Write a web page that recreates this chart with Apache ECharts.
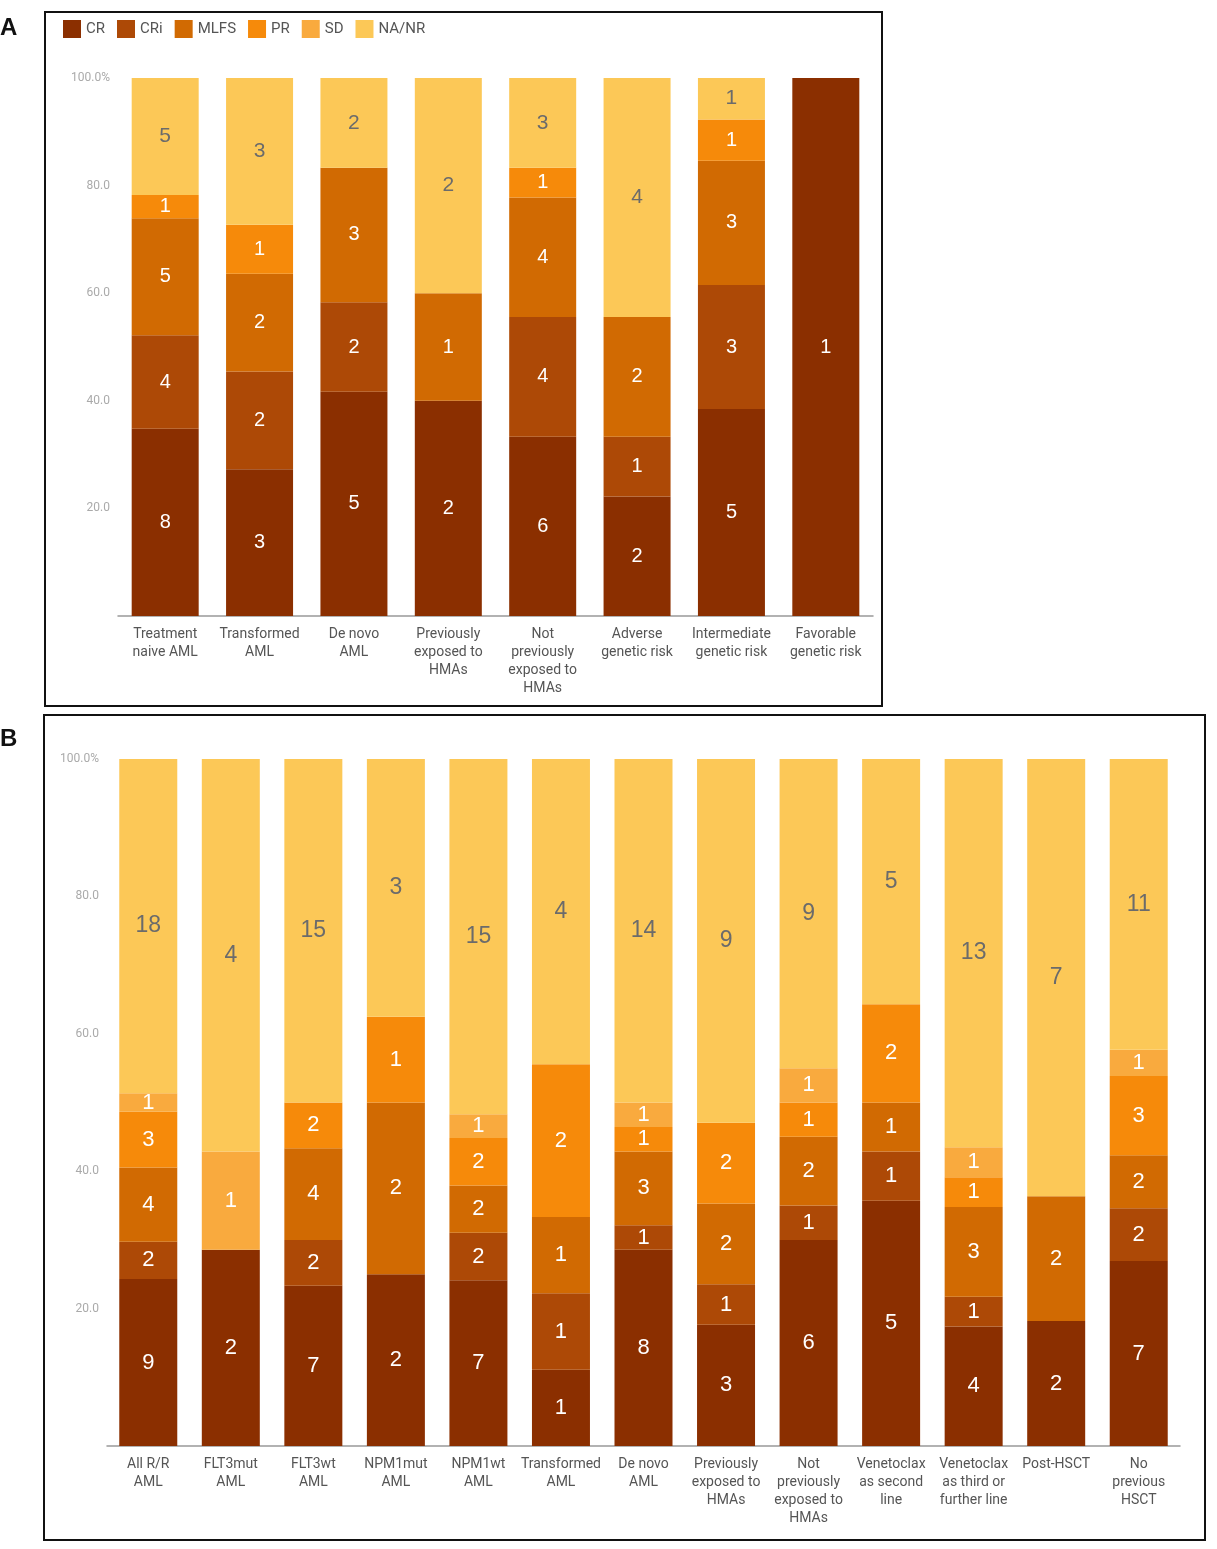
<!DOCTYPE html>
<html>
<head>
<meta charset="utf-8">
<title>Response by subgroup</title>
<script src="https://cdn.jsdelivr.net/npm/echarts@6/dist/echarts.min.js"></script>
<style>
  html, body { margin: 0; padding: 0; background: #fff; }
  #chart { width: 1217px; height: 1549px; }
</style>
</head>
<body>
<div id="chart"></div>
<script>
// response categories, bottom to top of each stack
const responses = ['CR', 'CRi', 'MLFS', 'PR', 'SD', 'NA/NR'];
const colors = ['#8b2f00', '#ad4906', '#d16a02', '#f68a0a', '#f9aa3e', '#fcc857'];

// panel A (counts of patients)
const catsA = ['Treatment\nnaive AML', 'Transformed\nAML', 'De novo\nAML', 'Previously\nexposed to\nHMAs',
  'Not\npreviously\nexposed to\nHMAs', 'Adverse\ngenetic risk', 'Intermediate\ngenetic risk', 'Favorable\ngenetic risk'];
const crA   = [8, 3, 5, 2, 6, 2, 5, 1];
const criA  = [4, 2, 2, 0, 4, 1, 3, 0];
const mlfsA = [5, 2, 3, 1, 4, 2, 3, 0];
const prA   = [1, 1, 0, 0, 1, 0, 1, 0];
const sdA   = [0, 0, 0, 0, 0, 0, 0, 0];
const nanrA = [5, 3, 2, 2, 3, 4, 1, 0];

// panel B (counts of patients)
const catsB = ['All R/R\nAML', 'FLT3mut\nAML', 'FLT3wt\nAML', 'NPM1mut\nAML', 'NPM1wt\nAML', 'Transformed\nAML',
  'De novo\nAML', 'Previously\nexposed to\nHMAs', 'Not\npreviously\nexposed to\nHMAs', 'Venetoclax\nas second\nline',
  'Venetoclax\nas third or\nfurther line', 'Post-HSCT', 'No\nprevious\nHSCT'];
const crB   = [9, 2, 7, 2, 7, 1, 8, 3, 6, 5, 4, 2, 7];
const criB  = [2, 0, 2, 0, 2, 1, 1, 1, 1, 1, 1, 0, 2];
const mlfsB = [4, 0, 4, 2, 2, 1, 3, 2, 2, 1, 3, 2, 2];
const prB   = [3, 0, 2, 1, 2, 2, 1, 2, 1, 2, 1, 0, 3];
const sdB   = [1, 1, 0, 0, 1, 0, 1, 0, 1, 0, 1, 0, 1];
const nanrB = [18, 4, 15, 3, 15, 4, 14, 9, 9, 5, 13, 7, 11];

function buildSeries(rows, idx, barWidth, fontSize) {
  const n = rows[0].length;
  const totals = [];
  for (let i = 0; i < n; i++) {
    let t = 0;
    rows.forEach(r => { t += r[i]; });
    totals.push(t);
  }
  return rows.map((r, k) => ({
    name: responses[k],
    type: 'bar',
    stack: 'p' + idx,
    xAxisIndex: idx,
    yAxisIndex: idx,
    barWidth: barWidth,
    itemStyle: { color: colors[k] },
    label: {
      show: true,
      position: 'inside',
      color: k === 5 ? '#6b6b6b' : '#fff',
      fontSize: k === 5 ? fontSize + 1 : fontSize,
      fontFamily: 'Liberation Sans, Arial, sans-serif',
      formatter: p => (r[p.dataIndex] ? String(r[p.dataIndex]) : '')
    },
    data: r.map((v, i) => (v ? v / totals[i] * 100 : 0))
  }));
}

function yAxis(idx) {
  return {
    type: 'value', gridIndex: idx, min: 0, max: 100, interval: 20,
    axisLine: { show: false }, axisTick: { show: false }, splitLine: { show: false },
    axisLabel: {
      color: '#aaa', fontSize: 12, margin: 8,
      fontFamily: 'Roboto, sans-serif',
      formatter: v => (v === 100 ? '100.0%' : v === 0 ? '' : v.toFixed(1))
    }
  };
}

function xAxis(idx, cats) {
  return {
    type: 'category', gridIndex: idx, data: cats,
    axisLine: { lineStyle: { color: '#999', width: 1.5 } },
    axisTick: { show: false },
    axisLabel: {
      interval: 0, color: '#555', fontSize: 14, lineHeight: 18, margin: 9,
      fontFamily: 'Roboto, sans-serif'
    }
  };
}

const chart = echarts.init(document.getElementById('chart'));
chart.setOption({
  animation: false,
  backgroundColor: '#fff',
  legend: {
    left: 58, top: 15,
    itemWidth: 18, itemHeight: 18, itemGap: 12,
    icon: 'rect',
    data: responses,
    textStyle: { color: '#555', fontSize: 15, fontFamily: 'Roboto, sans-serif' }
  },
  graphic: [
    { type: 'rect', shape: { x: 45, y: 12, width: 837, height: 694 },
      style: { fill: 'none', stroke: '#111', lineWidth: 2 } },
    { type: 'rect', shape: { x: 44, y: 715, width: 1161, height: 825 },
      style: { fill: 'none', stroke: '#111', lineWidth: 2 } },
    { type: 'text', left: 0, top: 16,
      style: { text: 'A', font: 'bold 24px Liberation Sans, Arial', fill: '#111' } },
    { type: 'text', left: 0, top: 727,
      style: { text: 'B', font: 'bold 24px Liberation Sans, Arial', fill: '#111' } }
  ],
  grid: [
    { left: 118, top: 78, width: 755, height: 538 },
    { left: 107, top: 759, width: 1073, height: 687 }
  ],
  xAxis: [xAxis(0, catsA), xAxis(1, catsB)],
  yAxis: [yAxis(0), yAxis(1)],
  series: buildSeries([crA, criA, mlfsA, prA, sdA, nanrA], 0, 67, 20)
    .concat(buildSeries([crB, criB, mlfsB, prB, sdB, nanrB], 1, 58, 22))
});
</script>
</body>
</html>
